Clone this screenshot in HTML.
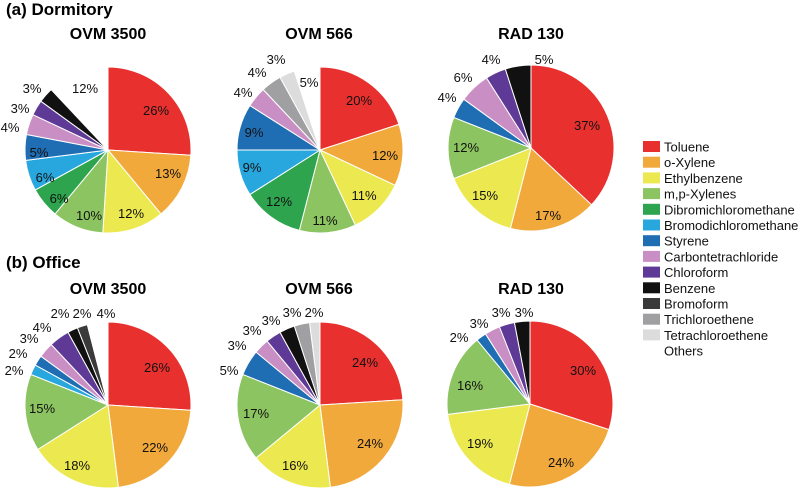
<!DOCTYPE html>
<html><head><meta charset="utf-8"><style>
body{margin:0;background:#fff;}
svg{display:block;font-family:"Liberation Sans",Arial,sans-serif;}
.t{font-weight:bold;font-size:16px;}
.l{font-size:13px;fill:#111;}
</style></head><body>
<svg id="s" width="800" height="489" viewBox="0 0 800 489" xmlns="http://www.w3.org/2000/svg">
<text x="6" y="15" class="t" style="font-size:17px">(a) Dormitory</text>
<text x="6" y="268" class="t" style="font-size:17px">(b) Office</text>
<text x="108" y="39" class="t" text-anchor="middle">OVM 3500</text>
<text x="319" y="39" class="t" text-anchor="middle">OVM 566</text>
<text x="531" y="39" class="t" text-anchor="middle">RAD 130</text>
<text x="108" y="294" class="t" text-anchor="middle">OVM 3500</text>
<text x="319" y="294" class="t" text-anchor="middle">OVM 566</text>
<text x="531" y="294" class="t" text-anchor="middle">RAD 130</text>
<g id="pies"></g>
<g id="leg"></g>
</svg>
<script>
var C=["#e8312f","#f2a93b","#ece850","#8cc461","#2ea44e","#28a7de","#1f6db3","#c98fc5","#5e3a96","#111111","#3a3a3a","#a0a0a3","#dcdcdc","#ffffff"];
var names=["Toluene","o-Xylene","Ethylbenzene","m,p-Xylenes","Dibromichloromethane","Bromodichloromethane","Styrene","Carbontetrachloride","Chloroform","Benzene","Bromoform","Trichloroethene","Tetrachloroethene","Others"];
var pies=[
[108,150,[[0,26],[1,13],[2,12],[3,10],[4,6],[5,6],[6,5],[7,4],[8,3],[9,3],[13,12]],
 [[156,115,"26%"],[168,178,"13%"],[131,218,"12%"],[89,220,"10%"],[59,203,"6%"],[45,182,"6%"],[39,157,"5%"],[10,132,"4%"],[20,113,"3%"],[32,93,"3%"],[85,93,"12%"]]],
[320,150,[[0,20],[1,12],[2,11],[3,11],[4,12],[5,9],[6,9],[7,4],[11,4],[12,3],[13,5]],
 [[359,105,"20%"],[385,160,"12%"],[364,200,"11%"],[325,225,"11%"],[279,206,"12%"],[252,172,"9%"],[254,137,"9%"],[243,97,"4%"],[257,77,"4%"],[276,64,"3%"],[309,87,"5%"]]],
[531,148,[[0,37],[1,17],[2,15],[3,12],[6,4],[7,6],[8,4],[9,5]],
 [[587,130,"37%"],[548,220,"17%"],[485,200,"15%"],[466,152,"12%"],[447,102,"4%"],[463,82,"6%"],[491,64,"4%"],[544,64,"5%"]]],
[108,405,[[0,26],[1,22],[2,18],[3,15],[5,2],[6,2],[7,3],[8,4],[9,2],[10,2],[13,4]],
 [[157,372,"26%"],[155,452,"22%"],[77,470,"18%"],[42,413,"15%"],[14,375,"2%"],[18,358,"2%"],[29,343,"3%"],[42,332,"4%"],[60,318,"2%"],[82,318,"2%"],[106,318,"4%"]]],
[320,405,[[0,24],[1,24],[2,16],[3,17],[6,5],[7,3],[8,3],[9,3],[11,3],[12,2]],
 [[365,367,"24%"],[370,448,"24%"],[295,470,"16%"],[256,418,"17%"],[229,375,"5%"],[237,350,"3%"],[252,335,"3%"],[271,325,"3%"],[292,317,"3%"],[314,317,"2%"]]],
[530,404,[[0,30],[1,24],[2,19],[3,16],[6,2],[7,3],[8,3],[9,3]],
 [[583,375,"30%"],[561,467,"24%"],[480,448,"19%"],[470,390,"16%"],[459,342,"2%"],[479,328,"3%"],[501,317,"3%"],[524,317,"3%"]]]
];
var R=83,h="";
pies.forEach(function(p){
 var cx=p[0],cy=p[1],a=0;
 p[2].forEach(function(s){
  var a0=a/100*2*Math.PI,a1=(a+s[1])/100*2*Math.PI;a+=s[1];
  var x0=cx+R*Math.sin(a0),y0=cy-R*Math.cos(a0),x1=cx+R*Math.sin(a1),y1=cy-R*Math.cos(a1);
  var lg=(a1-a0)>Math.PI?1:0;
  h+='<path d="M'+cx+','+cy+'L'+x0.toFixed(2)+','+y0.toFixed(2)+'A'+R+','+R+' 0 '+lg+' 1 '+x1.toFixed(2)+','+y1.toFixed(2)+'Z" fill="'+C[s[0]]+'" stroke="#fff" stroke-width="1"/>';
 });
 p[3].forEach(function(l){h+='<text class="l" x="'+l[0]+'" y="'+l[1]+'" text-anchor="middle">'+l[2]+'</text>';});
});
document.getElementById("pies").innerHTML=h;
var g="";
names.forEach(function(n,i){
 var y=141+i*15.7;
 if(i<13)g+='<rect x="643" y="'+y.toFixed(1)+'" width="17" height="11" fill="'+C[i]+'"/>';
 g+='<text x="664" y="'+(y+10.5).toFixed(1)+'" style="font-size:13px" fill="#111">'+n+'</text>';
});
document.getElementById("leg").innerHTML=g;
</script>
</body></html>
